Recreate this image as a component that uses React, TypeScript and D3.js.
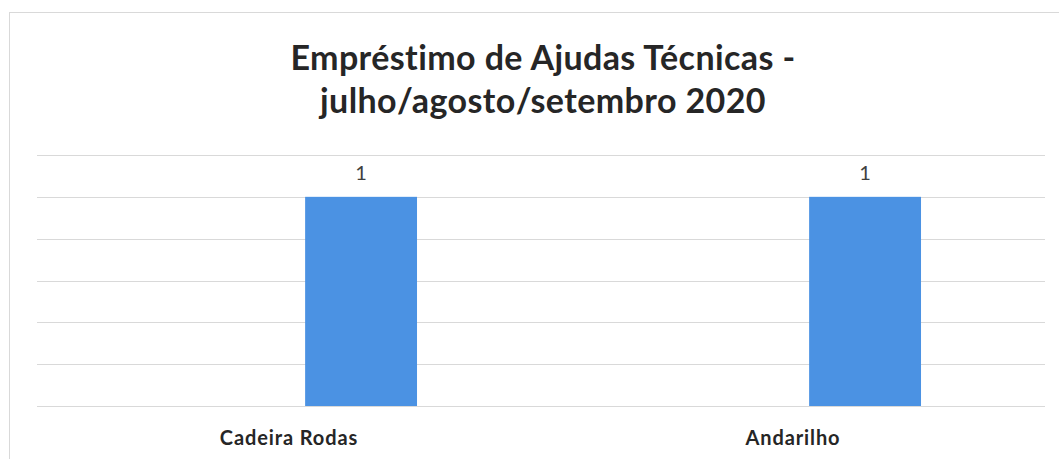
import React from "react";
import * as d3 from "d3";

const categories = ["Cadeira Rodas", "Andarilho"];
const values = [1, 1];
const yTicks = [0, 0.2, 0.4, 0.6, 0.8, 1, 1.2];
const titleLines = ["Empréstimo de Ajudas Técnicas -", "julho/agosto/setembro 2020"];

const W = 1059;
const H = 459;

export default function App() {
  const x = d3.scaleBand<string>().domain(categories).range([37, 1045]).padding(0);
  const y = d3.scaleLinear().domain([0, 1.2]).range([406, 155]);
  const bw = x.bandwidth();
  const barOffset = bw * 0.532;
  const barWidth = bw * 0.222;
  const font = "Lato, 'Open Sans', sans-serif";
  return (
    <svg
      width={W}
      height={H}
      style={{ position: "absolute", left: 0, top: 0, background: "#fff" }}
      fontFamily={font}
    >
      <rect x={0} y={0} width={W} height={H} fill="#fff" />
      <line x1={9.5} x2={9.5} y1={12} y2={H} stroke="#d9d9d9" />
      <line x1={9.5} x2={W} y1={12.5} y2={12.5} stroke="#d9d9d9" />
      {titleLines.map((t, i) => (
        <text
          key={i}
          x={543}
          y={70 + i * 43}
          textAnchor="middle"
          fontSize={34}
          fontWeight={700}
          letterSpacing={0.4}
          fill="#262626"
        >
          {t}
        </text>
      ))}
      {yTicks.map((t) => (
        <line
          key={t}
          x1={37}
          x2={1045}
          y1={Math.round(y(t)) + 0.5}
          y2={Math.round(y(t)) + 0.5}
          stroke="#d9d9d9"
          strokeWidth={1}
        />
      ))}
      {categories.map((c, i) => (
        <g key={c}>
          <rect
            x={(x(c) ?? 0) + barOffset}
            y={y(values[i])}
            width={barWidth}
            height={y(0) - y(values[i])}
            fill="#4b92e3"
          />
          <text
            x={(x(c) ?? 0) + barOffset + barWidth / 2}
            y={y(values[i]) - 17}
            textAnchor="middle"
            fontSize={20}
            fill="#404040"
          >
            {values[i]}
          </text>
          <text
            x={(x(c) ?? 0) + bw / 2}
            y={445}
            textAnchor="middle"
            fontSize={20}
            fontWeight={700}
            letterSpacing={0.9}
            fill="#262626"
          >
            {c}
          </text>
        </g>
      ))}
    </svg>
  );
}
